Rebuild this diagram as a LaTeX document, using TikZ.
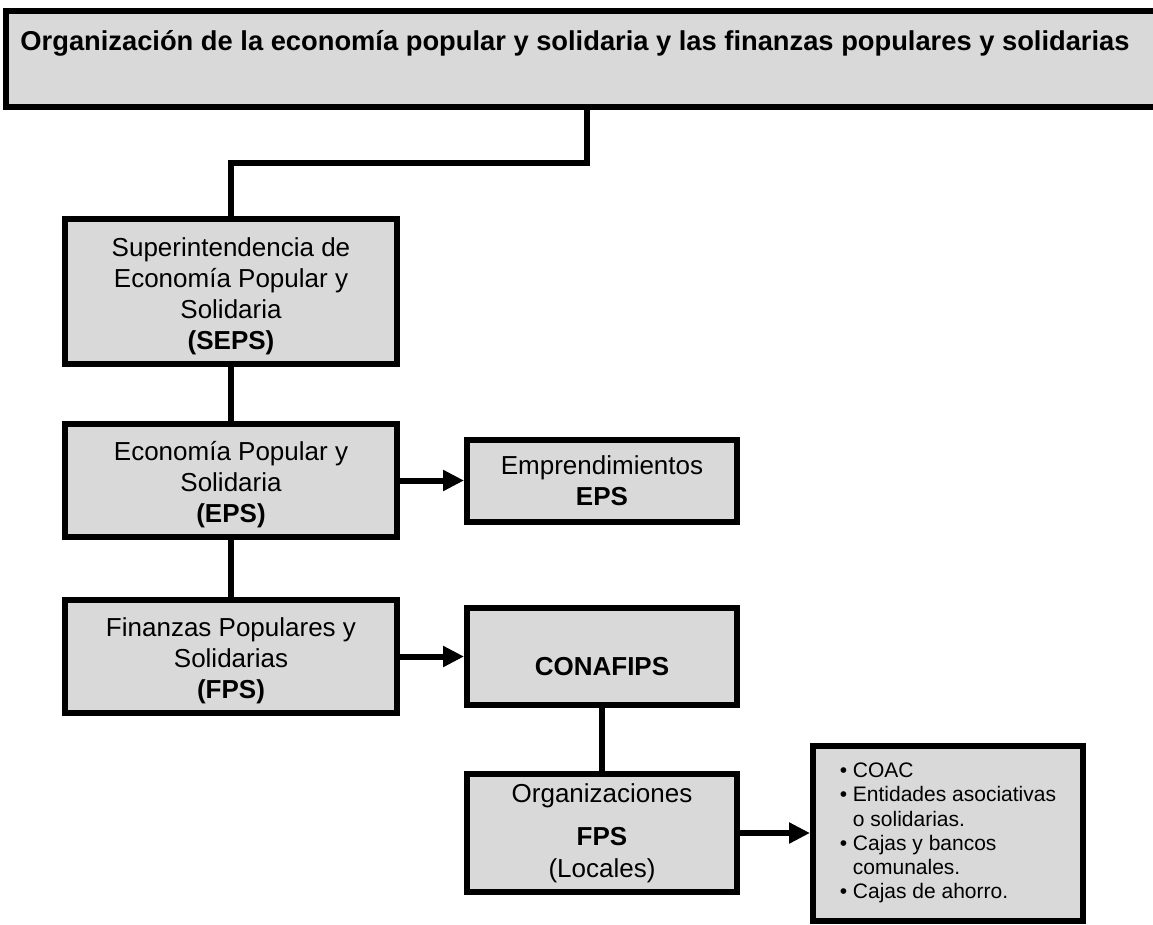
\documentclass[tikz,border=0pt]{standalone}
\usepackage{fontspec}
\setmainfont{Liberation Sans}
\usetikzlibrary{arrows.meta}
\definecolor{boxgray}{RGB}{217,217,217}
\newcommand{\topgap}{\rule{0pt}{28pt}}

\begin{document}
\begin{tikzpicture}[x=1pt, y=-1pt,
		box/.style={draw, fill=boxgray, line width=6pt, align=center, inner sep=0pt,
			font=\fontsize{26}{31}\selectfont},
		listbox/.style={box, align=left, font=\fontsize{21}{24.2}\selectfont},
		link/.style={line width=6pt},
		arrow/.style={line width=6pt, -{Triangle[length=21pt, width=20pt]}}]
		%%%%% START %%%%%
		
		\useasboundingbox (0, 0) rectangle (1153, 924);
		
		\node[box, minimum width=1164pt, minimum height=96pt] (top) at (588, 59) {};
		\node[font=\bfseries\fontsize{27.3}{31}\selectfont] (toptext) at (575, 43)
			{Organización de la economía popular y solidaria y las finanzas populares y solidarias};
		
		\node[box, minimum width=332pt, minimum height=145pt] (seps) at (231, 291.5)
			{\topgap Superintendencia de\\Economía Popular y\\Solidaria\\\textbf{(SEPS)}};
		\node[box, minimum width=332pt, minimum height=113pt] (eps) at (231, 480.5)
			{\topgap Economía Popular y\\Solidaria\\\textbf{(EPS)}};
		\node[box, minimum width=332pt, minimum height=113pt] (fps) at (231, 656.5)
			{\topgap Finanzas Populares y\\Solidarias\\\textbf{(FPS)}};
		
		\node[box, minimum width=270pt, minimum height=82pt] (emp) at (602, 480.5)
			{Emprendimientos\\\textbf{EPS}};
		\node[box, minimum width=270pt, minimum height=97pt, text height=38pt, text depth=0pt]
			(conafips) at (602, 656.5) {\textbf{CONAFIPS}};
		\node[box, minimum width=270pt, minimum height=118pt] (orgfps) at (602, 833)
			{Organizaciones\\[12pt]\textbf{FPS}\\[1pt](Locales)};
		
		\node[listbox, minimum width=270pt, minimum height=175pt] (locales) at (948, 833)
			{\makebox[13pt][l]{\textbullet}COAC\\
			 \makebox[13pt][l]{\textbullet}Entidades asociativas\\
			 \hspace*{13pt}o solidarias.\\
			 \makebox[13pt][l]{\textbullet}Cajas y bancos\\
			 \hspace*{13pt}comunales.\\
			 \makebox[13pt][l]{\textbullet}Cajas de ahorro.};
		
		\coordinate (turn) at (587, 163);
		\draw[link] (turn |- top.south) -- (turn) -| (seps.north);
		\draw[link] (seps) -- (eps);
		\draw[link] (eps) -- (fps);
		\draw[link] (conafips) -- (orgfps);
		
		\draw[arrow] (eps) -- (emp);
		\draw[arrow] (fps) -- (conafips);
		\draw[arrow] (orgfps) -- (locales);
		
		%%%%% END %%%%%
	\end{tikzpicture}
\end{document}
